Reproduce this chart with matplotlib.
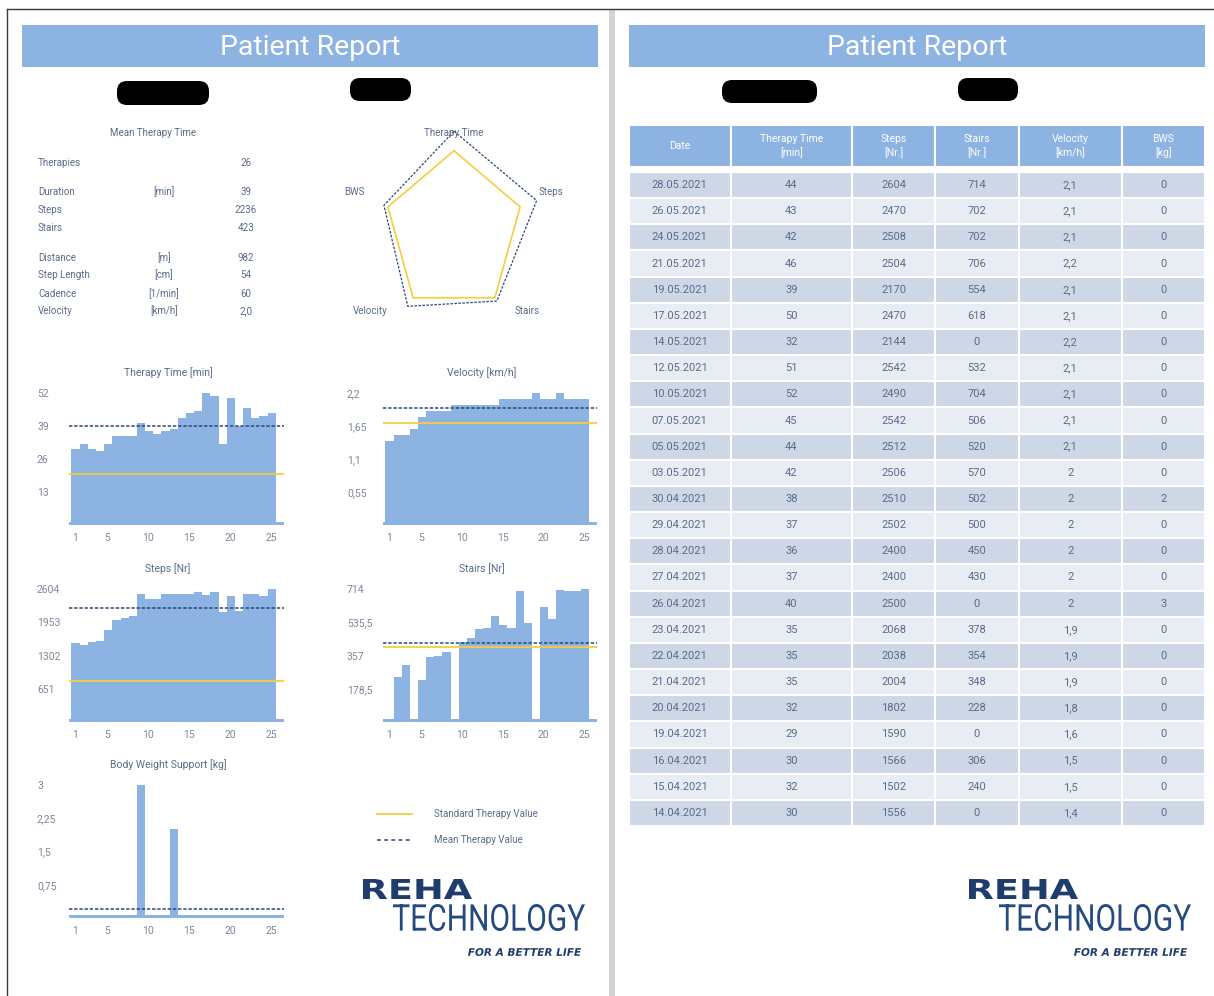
import matplotlib
matplotlib.use('Agg')
import matplotlib.pyplot as plt
import numpy as np
from matplotlib.patches import Rectangle, FancyBboxPatch, PathPatch
from matplotlib.textpath import TextPath
from matplotlib.font_manager import FontProperties
from matplotlib.transforms import Affine2D

plt.rcParams['font.family'] = ['Roboto', 'DejaVu Sans']

# sessions, oldest first
dates = ['14.04.2021', '15.04.2021', '16.04.2021', '19.04.2021', '20.04.2021',
         '21.04.2021', '22.04.2021', '23.04.2021', '26.04.2021', '27.04.2021',
         '28.04.2021', '29.04.2021', '30.04.2021', '03.05.2021', '05.05.2021',
         '07.05.2021', '10.05.2021', '12.05.2021', '14.05.2021', '17.05.2021',
         '19.05.2021', '21.05.2021', '24.05.2021', '26.05.2021', '28.05.2021']
therapy_time = [30, 32, 30, 29, 32, 35, 35, 35, 40, 37, 36, 37, 38, 42, 44,
                45, 52, 51, 32, 50, 39, 46, 42, 43, 44]
steps = [1556, 1502, 1566, 1590, 1802, 2004, 2038, 2068, 2500, 2400, 2400, 2502, 2510,
         2506, 2512, 2542, 2490, 2542, 2144, 2470, 2170, 2504, 2508, 2470, 2604]
stairs = [0, 240, 306, 0, 228, 348, 354, 378, 0, 430, 450, 500, 502,
          570, 520, 506, 704, 532, 0, 618, 554, 706, 702, 702, 714]
velocity = [1.4, 1.5, 1.5, 1.6, 1.8, 1.9, 1.9, 1.9, 2, 2, 2, 2, 2,
            2, 2.1, 2.1, 2.1, 2.1, 2.2, 2.1, 2.1, 2.2, 2.1, 2.1, 2.1]
bws = [0, 0, 0, 0, 0, 0, 0, 0, 3, 0, 0, 0, 2,
       0, 0, 0, 0, 0, 0, 0, 0, 0, 0, 0, 0]

# standard therapy values: time, velocity, steps, stairs, bws
std_time, std_velocity, std_steps, std_stairs, std_bws = 20, 1.7, 800, 400, 0

therapies = 26
distance = 982
step_length = 54
cadence = 60

radar_labels = ['Therapy Time', 'Steps', 'Stairs', 'Velocity', 'BWS']
radar_standard = [1, 1, 1, 1, 1]
radar_mean = [1.24, 1.25, 1.05, 1.13, 1.06]

table_head = ['Date', 'Therapy Time\n[min]', 'Steps\n[Nr.]', 'Stairs\n[Nr.]',
              'Velocity\n[km/h]', 'BWS\n[kg]']

BAR = '#8db3e2'
YELLOW = '#f3cf3f'
NAVY = '#2b4777'
TXT = '#5a6b8a'
TICK = '#7b889c'
LOGO = '#1f3d6c'

W, H = 1214, 996
fig = plt.figure(figsize=(W / 100, H / 100), dpi=100)


def fmt(v):
    return f'{v:g}'.replace('.', ',')


def px_axes(x0, y0, x1, y1):
    return fig.add_axes([x0 / W, 1 - y1 / H, (x1 - x0) / W, (y1 - y0) / H])


# page background in pixel coordinates
bg = px_axes(0, 0, W, H)
bg.set_xlim(0, W)
bg.set_ylim(H, 0)
bg.axis('off')

bg.add_patch(Rectangle((609, 9), 6, H - 9, color='#d3d3d3', lw=0))
bg.plot([7, W], [9, 9], color='#3a3a3a', lw=1)
bg.plot([7, 7], [9, H], color='#3a3a3a', lw=1)

for x0, x1 in [(22, 598), (629, 1205)]:
    bg.add_patch(Rectangle((x0, 25), x1 - x0, 42, color=BAR, lw=0))
    bg.text((x0 + x1) / 2, 47, 'Patient Report', color='white', fontsize=20.5,
            ha='center', va='center')

# blacked out name fields
for x0, y0, x1, y1 in [(119, 83, 207, 103), (352, 80, 409, 99),
                       (724, 82, 815, 101), (960, 80, 1016, 99)]:
    bg.add_patch(FancyBboxPatch((x0, y0), x1 - x0, y1 - y0,
                                boxstyle='round,pad=2,rounding_size=10',
                                color='black', lw=0))

# summary block
bg.text(153, 133, 'Mean Therapy Time', color=TXT, fontsize=7, ha='center', va='center')
stats = [('Therapies', '', str(therapies), 163),
         ('Duration', '[min]', str(round(np.mean(therapy_time))), 192),
         ('Steps', '', str(round(np.mean(steps))), 210),
         ('Stairs', '', str(round(np.mean(stairs))), 228),
         ('Distance', '[m]', str(distance), 258),
         ('Step Length', '[cm]', str(step_length), 275),
         ('Cadence', '[1/min]', str(cadence), 294),
         ('Velocity', '[km/h]', f'{np.mean(velocity):.1f}'.replace('.', ','), 311)]
for name, unit, val, y in stats:
    bg.text(38, y, name, color=TXT, fontsize=7, va='center')
    bg.text(164, y, unit, color=TXT, fontsize=7, ha='center', va='center')
    bg.text(246, y, val, color=TXT, fontsize=7, ha='center', va='center')

# radar
rad = px_axes(342.8, 118.2, 565.2, 345.8)
rad.set_xlim(-1.6, 1.6)
rad.set_ylim(-1.4, 1.4)
rad.axis('off')
theta = np.arange(len(radar_labels)) * 2 * np.pi / len(radar_labels)
theta = np.append(theta, 0)
r_std = np.append(radar_standard, radar_standard[0])
r_mean = np.append(radar_mean, radar_mean[0])
rad.plot(r_std * np.sin(theta), r_std * np.cos(theta), color=YELLOW, lw=1.2)
rad.plot(r_mean * np.sin(theta), r_mean * np.cos(theta), color=NAVY, lw=0.9,
         ls=(0, (2, 1.2)))
for lab, (x, y, ha) in zip(radar_labels, [(0, 1.22, 'center'), (1.22, 0.49, 'left'),
                                          (1.05, -0.97, 'center'), (-1.21, -0.97, 'center'),
                                          (-1.28, 0.49, 'right')]):
    rad.text(x, y, lab, color=TXT, fontsize=7, ha=ha, va='center')


def bar_panel(box, values, standard, title, pad):
    ax = px_axes(*box)
    values = np.array(values, dtype=float)
    ymax = values.max()
    x = np.arange(1, len(values) + 1)
    ax.bar(x + 0.1, values, width=1.0, color=BAR, lw=0)
    ax.axhspan(0, ymax * 0.024, color=BAR, lw=0, zorder=2.5)
    ax.axhline(standard, color=YELLOW, lw=1.3, zorder=2)
    ax.axhline(values.mean(), color=NAVY, lw=1.1, ls=(0, (2.2, 1.2)), zorder=2.2)
    ax.set_xlim(0.3, 26.6)
    ax.set_ylim(0, ymax)
    ticks = ymax * np.array([0.25, 0.5, 0.75, 1.0])
    ax.set_yticks(ticks, [fmt(t) for t in ticks])
    ax.set_xticks([1, 5, 10, 15, 20, 25])
    ax.tick_params(length=0, labelsize=7.5, labelcolor=TICK)
    ax.tick_params(axis='x', pad=6)
    ax.tick_params(axis='y', pad=pad)
    for lab in ax.get_yticklabels():
        lab.set_horizontalalignment('left')
    for s in ax.spines.values():
        s.set_visible(False)
    ax.set_title(title, color=TXT, fontsize=7.5, pad=12, x=0.46)
    return ax


bar_panel((69, 393, 284, 525), therapy_time, std_time, 'Therapy Time [min]', 23)
bar_panel((383, 393, 597, 525), velocity, std_velocity, 'Velocity [km/h]', 26)
bar_panel((69, 589, 284, 722), steps, std_steps, 'Steps [Nr]', 23)
bar_panel((383, 589, 597, 722), stairs, std_stairs, 'Stairs [Nr]', 26)
bar_panel((69, 785, 284, 918), bws, std_bws, 'Body Weight Support [kg]', 23)

# legend
bg.plot([377, 412], [814, 814], color=YELLOW, lw=1.3)
bg.plot([377, 412], [840, 840], color=NAVY, lw=1.1, ls=(0, (2.5, 2.2)))
bg.text(434, 814, 'Standard Therapy Value', color=TXT, fontsize=7, va='center')
bg.text(434, 840, 'Mean Therapy Value', color=TXT, fontsize=7, va='center')


def logo_text(s, x0, y_bottom, cap_h, width, fp, color):
    tp = TextPath((0, 0), s, size=100, prop=fp)
    ext = tp.get_extents()
    tr = Affine2D().translate(-ext.x0, -ext.y0).scale(width / ext.width, -cap_h / ext.height)
    tr = tr.translate(x0, y_bottom)
    bg.add_patch(PathPatch(tr.transform_path(tp), color=color, lw=0))


for dx in [0, 606]:
    logo_text('REHA', 363 + dx, 899, 20, 109,
              FontProperties(family='DejaVu Sans', weight='bold'), LOGO)
    logo_text('TECHNOLOGY', 393 + dx, 931, 27, 192,
              FontProperties(family='Roboto'), '#244a80')
    logo_text('FOR A BETTER LIFE', 468 + dx, 956, 8, 113,
              FontProperties(family='DejaVu Sans', weight='bold', style='italic'), LOGO)

# session table, newest first
rows = [[d, str(t), str(s), str(st), fmt(v), fmt(b)]
        for d, t, s, st, v, b in zip(dates, therapy_time, steps, stairs, velocity, bws)][::-1]
col_w = [101.5, 121.5, 83, 84, 102.5, 83.5]

head = bg.table(cellText=[table_head], colWidths=col_w, cellLoc='center',
                bbox=[629 / W, 1 - 167 / H, 576 / W, 42 / H])
body = bg.table(cellText=rows, colWidths=col_w, cellLoc='center',
                bbox=[629 / W, 1 - 826 / H, 576 / W, 654 / H])
for tbl in (head, body):
    tbl.auto_set_font_size(False)
    tbl.set_fontsize(8)
for (r, c), cell in head.get_celld().items():
    cell.set_facecolor(BAR)
    cell.set_edgecolor('white')
    cell.set_linewidth(1.5)
    cell.get_text().set_color('white')
    cell.get_text().set_fontsize(7.5)
    cell.get_text().set_linespacing(1.35)
for (r, c), cell in body.get_celld().items():
    cell.set_facecolor('#cdd7e6' if r % 2 == 0 else '#e8edf3')
    cell.set_edgecolor('white')
    cell.set_linewidth(1.5)
    cell.get_text().set_color(TXT)

fig.savefig('out.png', dpi=100)
